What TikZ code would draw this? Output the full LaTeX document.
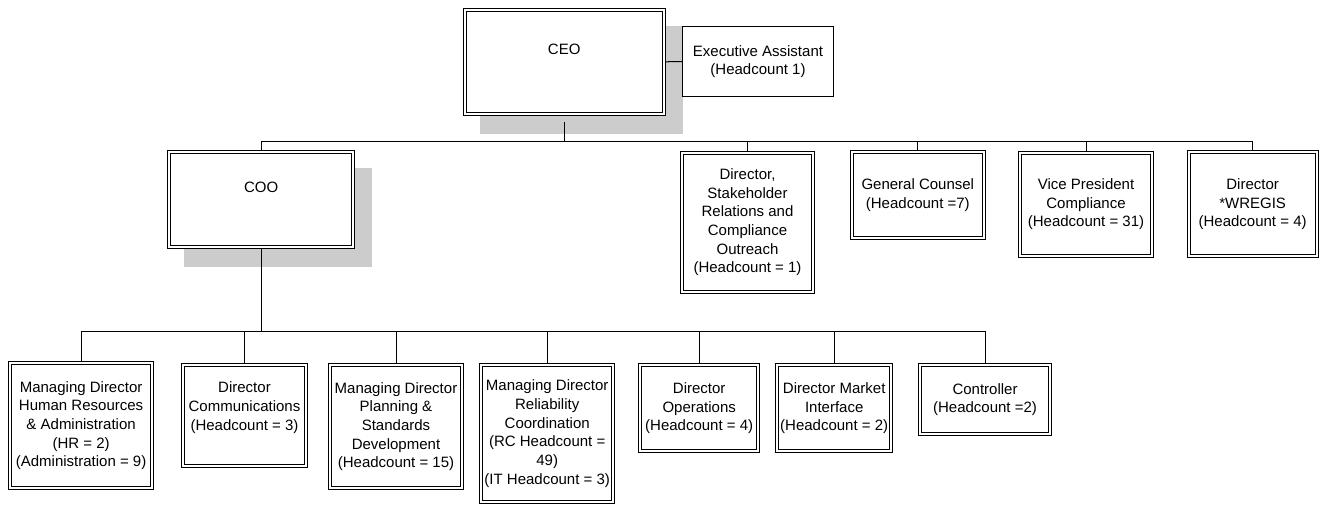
\documentclass[tikz,border=0pt]{standalone}
\usepackage{fontspec}
\setmainfont{Liberation Sans}
\usetikzlibrary{backgrounds}
\definecolor{shadegray}{RGB}{204,204,204}
\tikzset{%
	unit/.style      = {draw, rectangle, double, double distance=1.5pt, line width=0.75pt, fill=white, align=center, inner sep=0pt, outer sep=1.5pt},
	assist/.style    = {draw, rectangle, line width=0.75pt, fill=white, align=center, inner sep=0pt},
	link/.style      = {line width=0.75pt},
	boxshadow/.style = {fill=shadegray},
}

\begin{document}
\begin{tikzpicture}[x=0.75pt,y=-0.75pt,font=\fontsize{11.25}{14}\selectfont]
	\useasboundingbox (0,0) rectangle (1319,506);
	
	% top level
	\node[unit, minimum width=149.25pt, minimum height=77.8pt] (ceo) at (564.2,61.8) {CEO\\\strut};
	\node[assist, minimum width=113.25pt, minimum height=52.5pt] (ea) at (758,61.5) {Executive Assistant\\(Headcount 1)};
	
	% reports to the CEO
	\node[unit, minimum width=137.8pt, minimum height=71.25pt] (coo) at (261.2,199.8) {COO\\\strut};
	\node[unit, minimum width=98.7pt, minimum height=104pt] (stake) at (747.5,222.3) {Director,\\Stakeholder\\Relations and\\Compliance\\Outreach\\(Headcount = 1)};
	\node[unit, minimum width=98.7pt, minimum height=64.5pt] (counsel) at (917.8,195) {General Counsel\\(Headcount =7)};
	\node[unit, minimum width=98.5pt, minimum height=77.5pt] (vp) at (1086,204.3) {Vice President\\Compliance\\(Headcount = 31)};
	\node[unit, minimum width=95.85pt, minimum height=78.2pt] (wregis) at (1252.6,204.2) {Director\\*WREGIS\\(Headcount = 4)};
	
	% reports to the COO
	\node[unit, minimum width=106.8pt, minimum height=93.75pt] (hr) at (81.1,425.5) {Managing Director\\Human Resources\\\& Administration\\(HR = 2)\\(Administration = 9)};
	\node[unit, minimum width=92.25pt, minimum height=75.75pt] (comms) at (244.5,415.5) {Director\\Communications\\(Headcount = 3)\\[-4pt]\strut};
	\node[unit, minimum width=99pt, minimum height=92.25pt] (plan) at (396,426.5) {Managing Director\\Planning \&\\Standards\\Development\\(Headcount = 15)};
	\node[unit, minimum width=99.2pt, minimum height=103.1pt] (rc) at (547.2,433.75) {Managing Director\\Reliability\\Coordination\\(RC Headcount =\\49)\\(IT Headcount = 3)};
	\node[unit, minimum width=88.9pt, minimum height=64.7pt] (ops) at (699.2,408.2) {Director\\Operations\\(Headcount = 4)};
	\node[unit, minimum width=85.7pt, minimum height=64.7pt] (market) at (834.2,408.2) {Director Market\\Interface\\(Headcount = 2)};
	\node[unit, minimum width=98pt, minimum height=51.75pt] (ctrl) at (985,399.5) {Controller\\(Headcount =2)};
	
	\coordinate (topbar) at (0,141.7);
	\coordinate (lowbar) at (0,331);
	
	\draw[link] (ceo.east) -- (ea.west);
	\draw[link] ([yshift=-5pt]ceo.south) -- (ceo.south |- topbar);
	\draw[link] (coo.north |- topbar) -- (wregis.north |- topbar);
	\foreach \n in {coo,stake,counsel,vp,wregis} \draw[link] (\n.north) -- (\n.north |- topbar);
	
	\draw[link] (coo.south) -- (coo.south |- lowbar);
	\draw[link] (hr.north |- lowbar) -- (ctrl.north |- lowbar);
	\foreach \n in {hr,comms,plan,rc,ops,market,ctrl} \draw[link] (\n.north) -- (\n.north |- lowbar);
	
	\begin{scope}[on background layer]
		\foreach \n in {ceo,coo} \fill[boxshadow] ([shift={(17,18)}]\n.south west) rectangle ([shift={(17,18)}]\n.north east);
	\end{scope}
\end{tikzpicture}
\end{document}
